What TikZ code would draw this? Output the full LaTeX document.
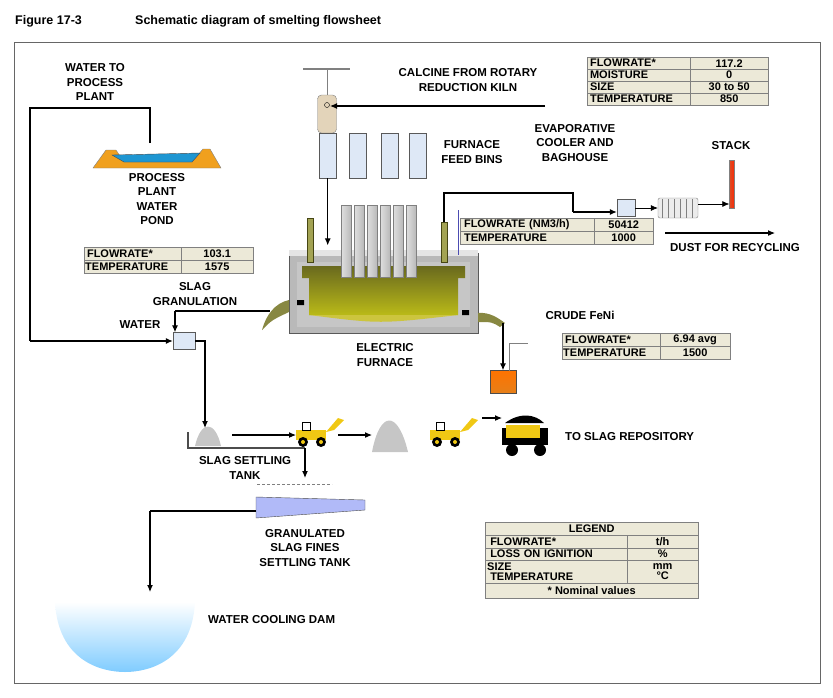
\documentclass[tikz,border=0pt]{standalone}
\usepackage{fontspec}
\setmainfont{Liberation Sans}
\usetikzlibrary{arrows.meta,positioning,calc}
\definecolor{tabfill}{RGB}{236,233,216}
\definecolor{binblue}{RGB}{222,232,246}
\definecolor{olive}{RGB}{140,140,40}
\definecolor{pondorange}{RGB}{240,160,30}
\definecolor{pondblue}{RGB}{30,150,210}
\definecolor{cat}{RGB}{240,200,20}

\begin{document}
\begin{tikzpicture}[x=1pt,y=-1pt,>={Latex[length=7pt,width=6pt]},
  lbl/.style={font=\fontsize{11.5}{14.5}\selectfont\bfseries,align=center,inner sep=0pt},
  cellL/.style={draw=gray,fill=tabfill,anchor=north west,inner sep=0pt,minimum height=13,font=\fontsize{11}{11}\selectfont\bfseries,align=left},
  cellR/.style={draw=gray,fill=tabfill,anchor=north west,inner sep=0pt,minimum height=13,font=\fontsize{11}{11}\selectfont\bfseries,align=center},
  flow/.style={draw,line width=1.1pt,->},
  bin/.style={draw=gray!70!black,fill=binblue,minimum width=17,minimum height=45,inner sep=0pt,anchor=north west},
  electrode/.style={draw=gray,left color=gray!25,right color=gray!55,minimum width=10,minimum height=72,inner sep=0pt,anchor=north west}]

\useasboundingbox (0,0) rectangle (833,697);

% title and frame
\node[lbl,anchor=west,font=\fontsize{12.5}{14}\selectfont\bfseries] (fig) at (15,21) {Figure 17-3};
\node[lbl,anchor=west,font=\fontsize{12.5}{14}\selectfont\bfseries] (title) at (135,21) {Schematic diagram of smelting flowsheet};
\draw[gray!80!black,line width=0.8pt] (14,42) rectangle (820,683);

% process plant water pond
\node[lbl] (wtpp) at (95,82) {WATER TO\\PROCESS\\PLANT};
\fill[pondorange,draw=gray] (93,168) -- (106,150) -- (116,150) -- (124,162) -- (192,162) -- (203,149) -- (210,149) -- (221,168) -- cycle;
\fill[pondblue,draw=gray!60!black] (112,155) -- (124,162) -- (192,162) -- (200,153) -- cycle;
\coordinate (pondtop) at (150,143);
\node[lbl] (pondlbl) at (157,199) {PROCESS\\PLANT\\WATER\\POND};

% slag table
\node[cellL,minimum width=97,text width=95] (sfl) at (84,247) {\,FLOWRATE*};
\node[cellR,minimum width=72] (sflv) at (181,247) {103.1};
\node[cellL,minimum width=97,text width=95] (stp) at (84,260) {TEMPERATURE};
\node[cellR,minimum width=72] (stpv) at (181,260) {1575};

\node[lbl] (sgran) at (195,294) {SLAG\\GRANULATION};
\node[lbl] (water) at (140,325) {WATER};
\node[draw=gray!70!black,fill=binblue,minimum width=22,minimum height=17,inner sep=0pt] (wbox) at (184,341) {};

% calcine feed
\draw[gray,line width=1.5pt] (303,69) -- (350,69);
\draw[gray] (327,69) -- (327,95);
\node[draw=gray,fill=tabfill!80!brown,rounded corners=4,minimum width=19,minimum height=38,inner sep=0pt] (hopper) at (327,114) {};
\draw (327,105) circle (2.5);
\node[lbl] (calc) at (468,80) {CALCINE FROM ROTARY\\REDUCTION KILN};
\coordinate (calcin) at (545,106);
\draw[flow] (calcin) -- (330,106);

\node[bin] (bin1) at (319,133) {};
\node[bin] (bin2) at (349,133) {};
\node[bin] (bin3) at (381,133) {};
\node[bin] (bin4) at (409,133) {};
\node[lbl] (binlbl) at (472,152) {FURNACE\\FEED BINS};

% electric furnace
\fill[gray!55,draw=gray!70!black] (289,253) rectangle (478,333);
\fill[gray!20] (289,250) rectangle (478,256);
\fill[gray!45] (297,262) rectangle (470,327);
\shade[top color=olive!75!black,bottom color=olive!60!yellow] (302,266) -- (465,266) -- (465,278) -- (458,278) -- (458,315) -- (309,315) -- (309,278) -- (302,278) -- cycle;
\fill[yellow!50!olive] (309,315) .. controls (380,324) .. (458,315) -- cycle;
\fill[black] (297,300) rectangle (304,305) (462,310) rectangle (469,315);
\foreach \ex in {341,354,367,380,393,406}
  \node[electrode] at (\ex,205) {};
\fill[olive!80,draw=olive!50!black] (307,218) rectangle (313,262);
\fill[olive!80,draw=olive!50!black] (441,222) rectangle (447,262);
\draw[blue!40!gray,thick] (458,210) -- (458,255);
\node[lbl] (eflbl) at (385,355) {ELECTRIC\\FURNACE};
\draw[flow] (bin1.south) -- ++(0,67) coordinate (feedin);

% slag spout and FeNi spout
\fill[olive!70!gray] (289,300) .. controls (275,303) and (266,315) .. (262,330) .. controls (272,320) .. (289,312) -- cycle;
\fill[olive!70!gray] (478,313) .. controls (490,312) and (498,318) .. (505,323) -- (500,327) .. controls (492,322) .. (478,322) -- cycle;
\coordinate (slagout) at (270,311);
\draw[line width=1.1pt] (slagout) -- (175,311);
\draw[flow] (175,311) -- (wbox.north -| 175,0);
\draw[line width=1.1pt] (pondtop) -- (150,108) -- (30,108) -- (30,341);
\draw[flow] (30,341) -- (wbox.west);

% crude FeNi
\node[lbl] (fenilbl) at (580,315) {CRUDE FeNi};
\node[cellL,minimum width=98,text width=96] (ffl) at (562,333) {\,FLOWRATE*};
\node[cellR,minimum width=70] (fflv) at (660,333) {6.94 avg};
\node[cellL,minimum width=98,text width=96] (ftp) at (562,346) {TEMPERATURE};
\node[cellR,minimum width=70] (ftpv) at (660,346) {1500};
\node[draw=black!70,top color=orange!90!red,bottom color=orange!60!brown,minimum width=26,minimum height=23,inner sep=0pt] (ladle) at (503,382) {};
\draw[gray] (509,371) -- (509,343) -- (528,343);
\draw[flow] (503,323) -- (ladle.north);

% off-gas line
\node[lbl] (evap) at (575,143) {EVAPORATIVE\\COOLER AND\\BAGHOUSE};
\node[lbl] (stacklbl) at (731,146) {STACK};
\node[draw=gray!70!black,fill=binblue,minimum width=18,minimum height=17,inner sep=0pt] (cooler) at (626,208) {};
\draw[line width=1.1pt] (444,222) -- (444,193) -- (573,193) -- (573,212);
\draw[flow] (573,212) -- (cooler.west |- 0,212);
\node[draw=gray,fill=gray!15,minimum width=40,minimum height=20,inner sep=0pt,rounded corners=2] (bag) at (678,208) {};
\foreach \bx in {662,668,674,680,686,692} \draw[gray] (\bx,199) -- (\bx,218);
\draw[flow,line width=0.6pt] (cooler.east) -- (bag.west);
\node[draw=gray,left color=red!40!brown,right color=red!70!orange,minimum width=5,minimum height=48,inner sep=0pt] (stack) at (732,184) {};
\draw[flow,line width=0.6pt] (bag.east |- 0,204) -- (stack.west |- 0,204);
\node[cellL,minimum width=134,text width=130] (gfl) at (460,218) {\,FLOWRATE (NM3/h)};
\node[cellR,minimum width=59] (gflv) at (594,218) {50412};
\node[cellL,minimum width=134,text width=130] (gtp) at (460,231) {\,TEMPERATURE};
\node[cellR,minimum width=59] (gtpv) at (594,231) {1000};
\coordinate (dust) at (665,233);
\draw[flow] (dust) -- (775,233);
\node[lbl] (dustlbl) at (735,248) {DUST FOR RECYCLING};

% calcine table
\node[cellL,minimum width=103,text width=101,minimum height=12] (cfl) at (587,57) {\,FLOWRATE*};
\node[cellR,minimum width=78,minimum height=12] (cflv) at (690,57) {117.2};
\node[cellL,minimum width=103,text width=101,minimum height=12] (cmo) at (587,69) {\,MOISTURE};
\node[cellR,minimum width=78,minimum height=12] (cmov) at (690,69) {0};
\node[cellL,minimum width=103,text width=101,minimum height=12] (csz) at (587,81) {\,SIZE};
\node[cellR,minimum width=78,minimum height=12] (cszv) at (690,81) {30 to 50};
\node[cellL,minimum width=103,text width=101,minimum height=12] (ctp) at (587,93) {\,TEMPERATURE};
\node[cellR,minimum width=78,minimum height=12] (ctpv) at (690,93) {850};

% slag handling
\fill[gray!45] (195,446) .. controls (201,420) and (215,420) .. (221,446) -- cycle;
\draw[gray!60!black,line width=1.5pt] (188,432) -- (188,448) -- (305,448);
\coordinate (pile1) at (205,428);
\draw[flow] (wbox.east) -- (205,341) -- (pile1);
\node[lbl] (sstlbl) at (245,468) {SLAG SETTLING\\TANK};
\draw[flow] (305,448) -- (305,478) coordinate (fines);
\draw[gray,densely dashed] (257,484) -- (332,484);

% loaders, pile, truck
\foreach \lx/\ln in {296/ldr1,430/ldr2} {
  \fill[cat] (\lx,430) rectangle ++(30,10);
  \draw[black,thick] (\lx+6,422) rectangle ++(8,8);
  \fill[cat] (\lx+30,432) -- (\lx+42,418) -- (\lx+48,420) -- (\lx+38,430) -- cycle;
  \fill[black] (\lx+7,442) circle (5) (\lx+25,442) circle (5);
  \fill[cat] (\lx+7,442) circle (2) (\lx+25,442) circle (2);
  \coordinate (\ln) at (\lx,435);
}
\fill[gray!45] (372,452) .. controls (380,410) and (398,410) .. (408,452) -- cycle;
\coordinate (pile2) at (372,435);
\fill[black] (502,428) rectangle (548,445);
\fill[cat] (506,425) rectangle (540,438);
\fill[black] (505,423) .. controls (520,412) and (535,414) .. (544,423) -- cycle;
\fill[black] (512,450) circle (6) (540,450) circle (6);
\coordinate (truck) at (502,418);
\draw[flow] (232,435) -- (ldr1);
\draw[flow] (338,435) -- (pile2);
\draw[flow] (482,418) -- (truck);
\node[lbl,anchor=west] (repo) at (565,437) {TO SLAG REPOSITORY};

% fines settling tank
\fill[binblue!80!blue,draw=black!70] (256,497) -- (365,500) -- (365,510) -- (256,518) -- cycle;
\node[lbl] (gslbl) at (305,548) {GRANULATED\\SLAG FINES\\SETTLING TANK};
\draw[line width=1.1pt] (256,511) -- (150,511);
\draw[flow] (150,511) -- (150,592) coordinate (damin);

% water cooling dam
\shade[top color=white,bottom color=cyan!60!blue!50] (55,602) .. controls (58,660) and (100,672) .. (125,672) .. controls (150,672) and (192,660) .. (195,602) -- cycle;
\node[lbl,anchor=west] (damlbl) at (208,620) {WATER COOLING DAM};

% legend
\node[cellR,minimum width=213,minimum height=13] (lg) at (485,522) {LEGEND};
\node[cellL,minimum width=142,text width=138] (l1) at (485,535) {\;FLOWRATE*};
\node[cellR,minimum width=71] (l1v) at (627,535) {t/h};
\node[cellL,minimum width=142,text width=138,minimum height=12] (l2) at (485,548) {\;LOSS ON IGNITION};
\node[cellR,minimum width=71,minimum height=12] (l2v) at (627,548) {\%};
\node[cellL,minimum width=142,text width=138,minimum height=23,font=\fontsize{11}{10.5}\selectfont\bfseries] (l3) at (485,560) {SIZE\\\;TEMPERATURE};
\node[cellR,minimum width=71,minimum height=23,font=\fontsize{11}{10.5}\selectfont\bfseries] (l3v) at (627,560) {mm\\°C};
\node[cellR,minimum width=213,minimum height=15] (lnote) at (485,583) {* Nominal values};

\end{tikzpicture}
\end{document}
